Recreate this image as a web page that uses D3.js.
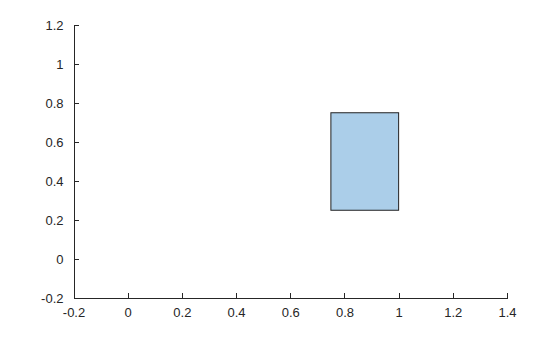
<!DOCTYPE html>
<html lang="en">
<head>
<meta charset="utf-8">
<script src="https://d3js.org/d3.v7.min.js"></script>
<style type="text/css">
body { margin: 0; background: #fff; }
.axis text { font-family: "Liberation Sans", Arial, sans-serif; font-size: 13px; fill: #262626; }
.axis line, .axis path { fill: none; stroke: #262626; shape-rendering: crispEdges; }
</style>
</head>
<body>
<div id="chart"></div>
<script type="text/javascript">

// data: one rectangle [x, y, w, h]
var rectX = [0.75];
var rectY = [0.25];
var rectW = [0.25];
var rectH = [0.5];
var xTicks = [-0.2, 0, 0.2, 0.4, 0.6, 0.8, 1, 1.2, 1.4];
var yTicks = [-0.2, 0, 0.2, 0.4, 0.6, 0.8, 1, 1.2];

var width = 560, height = 337;
var margin = {left: 73.5, right: 53, top: 25, bottom: 39};

var svg = d3.select("#chart")
  .append("svg")
  .attr("width", width)
  .attr("height", height);

var x = d3.scaleLinear()
  .domain([-0.2, 1.4])
  .range([margin.left, width - margin.right]);

var y = d3.scaleLinear()
  .domain([-0.2, 1.2])
  .range([height - margin.bottom, margin.top]);

// plain hyphen for negatives, like the original
var fmt = function(d) { return String(+d.toFixed(2)); };

// rectangles
svg.selectAll("rect.box")
  .data(rectX.map(function(d, i) { return {x: d, y: rectY[i], w: rectW[i], h: rectH[i]}; }))
  .enter()
  .append("rect")
  .attr("class", "box")
  .attr("x", function(d) { return x(d.x); })
  .attr("y", function(d) { return y(d.y + d.h); })
  .attr("width", function(d) { return x(d.x + d.w) - x(d.x); })
  .attr("height", function(d) { return y(d.y) - y(d.y + d.h); })
  .style("fill", "#abcee9")
  .style("stroke", "#222")
  .style("stroke-width", 1);

// axes, ticks pointing inward
var xAxis = d3.axisBottom(x).tickValues(xTicks).tickFormat(fmt).tickSizeInner(-5).tickSizeOuter(0).tickPadding(10);
var yAxis = d3.axisLeft(y).tickValues(yTicks).tickFormat(fmt).tickSizeInner(-5).tickSizeOuter(0).tickPadding(10);

svg.append("g")
  .attr("class", "x axis")
  .attr("transform", "translate(0," + y(-0.2) + ")")
  .call(xAxis)
  .attr("font-family", null);

svg.append("g")
  .attr("class", "y axis")
  .attr("transform", "translate(" + x(-0.2) + ",0)")
  .call(yAxis)
  .attr("font-family", null);

</script>
</body>
</html>
